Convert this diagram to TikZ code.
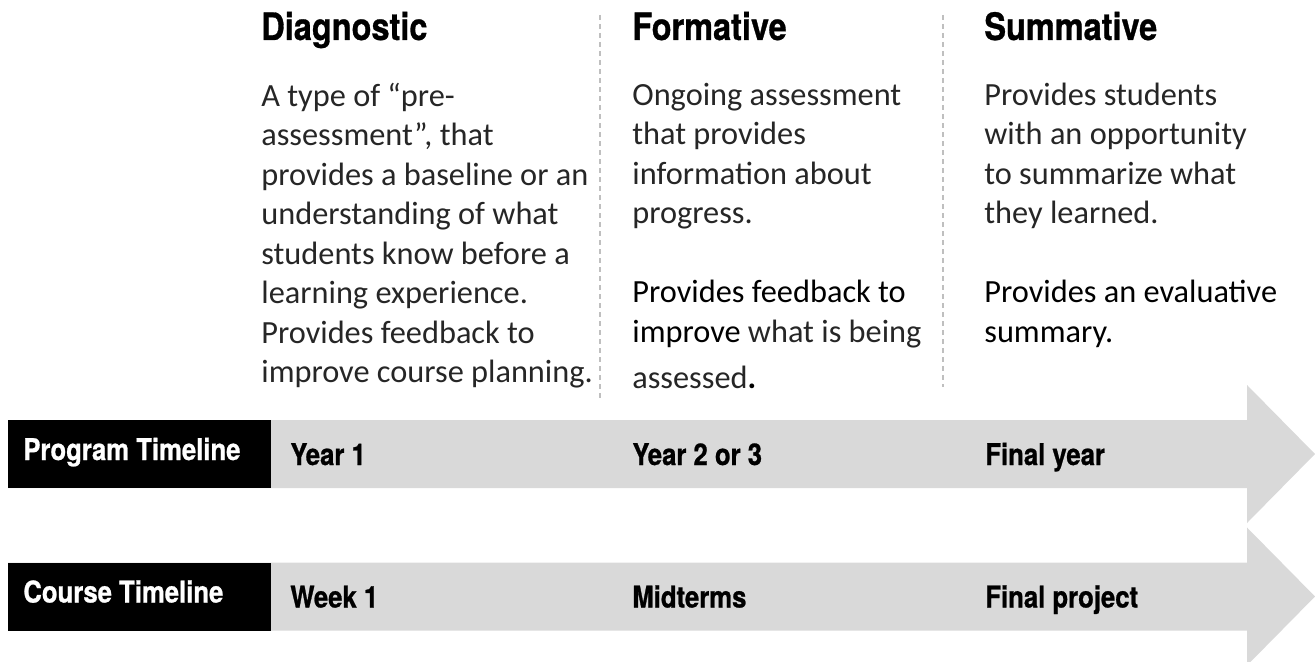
\documentclass[tikz,border=0pt]{standalone}
\usepackage{fontspec}
\setmainfont{Carlito}
\newfontfamily\headfont[FakeStretch=0.86, FakeBold=0.8]{TeX Gyre Heros}
\definecolor{arrowgray}{HTML}{D9D9D9}
\definecolor{sepgray}{HTML}{BFBFBF}
\newcommand{\bodyfont}{\fontsize{18.4}{22.5}\selectfont}
\newcommand{\titlefont}{\headfont\bfseries\fontsize{21.5}{26}\selectfont}
\newcommand{\barfont}{\headfont\bfseries\fontsize{17}{20}\selectfont}

\begin{document}
\begin{tikzpicture}[x=0.2mm, y=-0.2mm,  % one unit is one pixel of the page
    title/.style={anchor=base west, inner sep=0pt, font=\titlefont},
    body/.style={anchor=north west, inner sep=0pt, align=left, font=\bodyfont, text=black!85},
    tagbox/.style={fill=black, inner sep=0pt, minimum width=52.6mm, minimum height=13.6mm},
    bartext/.style={anchor=base west, inner sep=0pt, font=\barfont}]
    \useasboundingbox (0,0) rectangle (1315,662);
    \clip (0,0) rectangle (1315,662);

    % Draw the dashed separators between the columns
    \coordinate (sepa top) at (600,15);
    \coordinate (sepa bot) at (600,398);
    \coordinate (sepb top) at (943,15);
    \coordinate (sepb bot) at (943,387);
    \draw[sepgray, line width=0.3mm, dash pattern=on 1mm off 0.8mm] (sepa top) -- (sepa bot);
    \draw[sepgray, line width=0.3mm, dash pattern=on 1mm off 0.8mm] (sepb top) -- (sepb bot);

    % Column headings
    \node[title] (diag) at (261,40) {Diagnostic};
    \node[title] (form) at (632,40) {Formative};
    \node[title] (summ) at (984,40) {Summative};

    % Column texts
    \node[body] (diagtext) at (261,78) {\strut A type of “pre-\\
        assessment”, that\\
        provides a baseline or an\\
        understanding of what\\
        students know before a\\
        learning experience.\\
        Provides feedback to\\
        improve course planning.};
    \node[body] (formtext) at (632,77) {\strut Ongoing assessment\\
        that provides\\
        information about\\
        progress.\\[22.5pt]
        \textcolor{black}{Provides feedback to}\\
        \textcolor{black}{improve} what is being\\[4pt]
        assessed\textcolor{black}{\textbf{.}}};
    \node[body] (summtext) at (984,77) {\strut Provides students\\
        with an opportunity\\
        to summarize what\\
        they learned.\\[22.5pt]
        \textcolor{black}{Provides an evaluative}\\
        \textcolor{black}{summary.}};

    % Draw the two timeline arrows with their black tags
    \foreach \yc/\tag/\name/\a/\b/\c in {454/prog/Program Timeline/Year 1/Year 2 or 3/Final year,
                                         596.5/course/Course Timeline/Week 1/Midterms/Final project} {
        \fill[arrowgray] (8,\yc-34) -- (1247,\yc-34) -- (1247,\yc-69) -- (1315,\yc)
            -- (1247,\yc+69) -- (1247,\yc+34) -- (8,\yc+34) -- cycle;
        \node[tagbox] (\tag box) at (139.5,\yc) {};
        \node[bartext, text=white] (\tag tag) at (23,\yc+6) {\name};
        \node[bartext] (\tag a) at (290,\yc+11) {\a};
        \node[bartext] (\tag b) at (632,\yc+11) {\b};
        \node[bartext] (\tag c) at (985,\yc+11) {\c};
    }
\end{tikzpicture}
\end{document}
